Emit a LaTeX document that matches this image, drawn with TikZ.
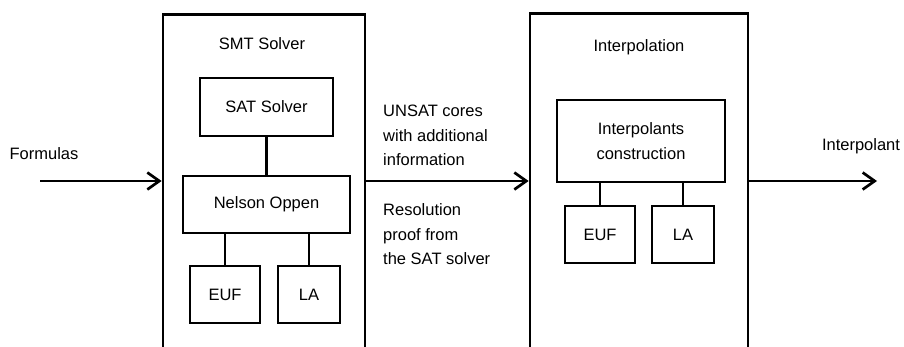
\documentclass[tikz,border=0pt]{standalone}
\usepackage{fontspec}
\setmainfont{Liberation Sans}
\usetikzlibrary{positioning, calc, arrows.meta}

\begin{document}
\begin{tikzpicture}[
  x=1pt, y=-1pt,
  font=\fontsize{16.5}{24.5}\selectfont,
  stage/.style={draw, line width=2.7pt, minimum width=#1, minimum height=400pt, inner sep=0pt},
  block/.style={draw, line width=2.7pt, minimum height=57pt, inner sep=0pt, align=center},
  link/.style={line width=2.7pt},
  flow/.style={line width=2.7pt, -{Straight Barb[length=12pt, width=17pt]}},
  note/.style={inner sep=0pt, align=left},
]
\useasboundingbox (0,0) rectangle (904,346);
\clip (0,0) rectangle (904,346);

% =====================================================================
% SMT solver stage
% =====================================================================
\node[stage=202pt, anchor=north] (smt) at (264,13) {};
\node[note] (smtlbl) at (262,44) {SMT Solver};

\node[block, minimum width=133pt, minimum height=58pt] (sat) at (266.5,107) {SAT Solver};
\node[block, minimum width=167pt] (no) at (266.5,204.5) {Nelson Oppen};
\node[block, minimum width=70pt] (eufA) at (225,294.5) {EUF};
\node[block, minimum width=62pt] (laA) at (309,294.5) {LA};

\draw[link] (sat) -- (no);
\draw[link] (no.south -| eufA) -- (eufA);
\draw[link] (no.south -| laA) -- (laA);

% =====================================================================
% Interpolation stage
% =====================================================================
\node[stage=218pt, anchor=north] (itp) at (639,12) {};
\node[note] (itplbl) at (639,47) {Interpolation};

\node[block, minimum width=168pt, minimum height=82pt] (ic) at (641,141)
  {Interpolants\\construction};
\node[block, minimum width=70pt] (eufB) at (600,234.5) {EUF};
\node[block, minimum width=62pt] (laB) at (683,234.5) {LA};

\draw[link] (ic.south -| eufB) -- (eufB);
\draw[link] (ic.south -| laB) -- (laB);

% =====================================================================
% data flow
% =====================================================================
\coordinate (fin) at (40,181);
\coordinate (fout) at (877,181);

\draw[flow] (fin) -- (fin -| smt.west);
\draw[flow] (smt.east |- fin) -- (itp.west |- fin);
\draw[flow] (itp.east |- fin) -- (fout);

\node[note] (inlbl) at (44,154) {Formulas};
\node[note] (outlbl) at (861,146) {Interpolant};
\node[note, anchor=north west] (cores) at (383,105)
  {UNSAT cores\\with additional\\information};
\node[note, anchor=north west] (proof) at (383,203.5)
  {Resolution\\proof from\\the SAT solver};

\end{tikzpicture}
\end{document}
